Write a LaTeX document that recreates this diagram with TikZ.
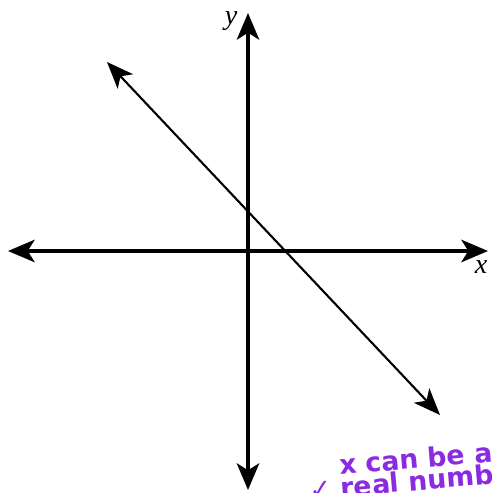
\documentclass[tikz,border=0pt]{standalone}
\usepackage{fontspec}
\usepackage{xcolor}
\usetikzlibrary{arrows.meta}
\newfontfamily\handfont{DejaVu Sans}
\newfontfamily\labelfont{Liberation Serif}
\definecolor{notecolor}{RGB}{138,43,226}

\begin{document}
\begin{tikzpicture}[x=0.025cm,y=-0.025cm,
    axis/.style={line width=2.2pt,{Stealth[length=19pt,width=16pt,inset=5pt]}-{Stealth[length=19pt,width=16pt,inset=5pt]}},
    graphline/.style={line width=1.5pt,{Stealth[length=19pt,width=15pt,inset=5pt]}-{Stealth[length=19pt,width=15pt,inset=5pt]}},
    axislabel/.style={font=\labelfont\itshape\fontsize{20}{22}\selectfont,inner sep=0pt},
    note/.style={text=notecolor,font=\handfont\bfseries\fontsize{19}{21}\selectfont,rotate=5,anchor=base west,inner sep=0pt}]
    \useasboundingbox (0,0) rectangle (492,493);
    \clip (0,0) rectangle (492,493);
    \coordinate (xleft) at (8,251);
    \coordinate (xright) at (488,251);
    \coordinate (ytop) at (248,13);
    \coordinate (ybottom) at (248,490);
    \coordinate (lstart) at (107,62);
    \coordinate (lend) at (440,415);
    \draw[axis] (xleft)--(xright);
    \draw[axis] (ytop)--(ybottom);
    \draw[graphline] (lstart)--(lend);
    \node[axislabel] (ylab) at (231,21) {y};
    \node[axislabel] (xlab) at (481,267) {x};
    \node[note] (note1) at (340,475) {x can be any};
    \node[note] (note2) at (310,500) {✓ real numbers};
\end{tikzpicture}
\end{document}
